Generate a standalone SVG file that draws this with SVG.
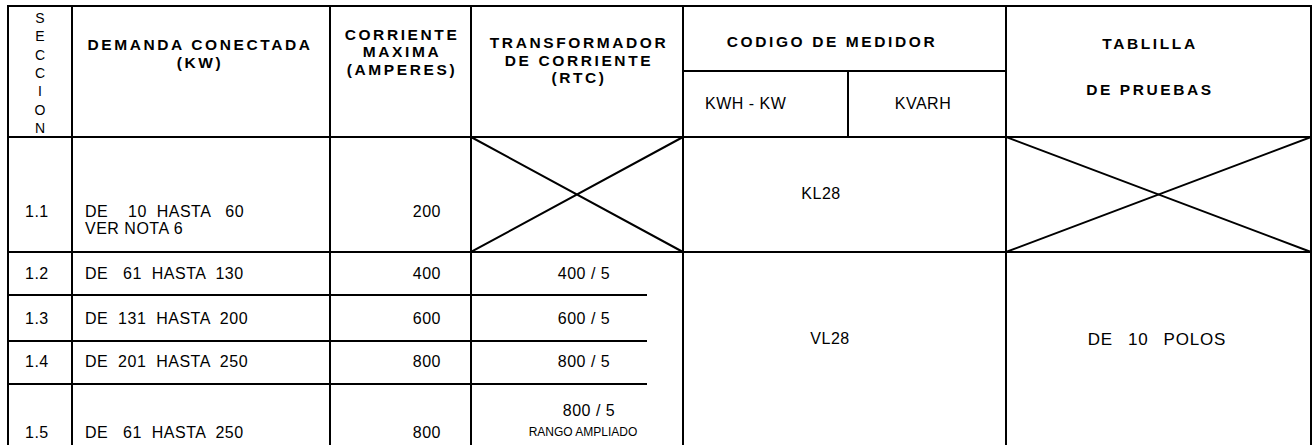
<svg xmlns="http://www.w3.org/2000/svg" width="1312" height="445" viewBox="0 0 1312 445">
<style>
.ln{stroke:#000;stroke-width:2;fill:none;stroke-linecap:square}
.h{font-family:"Liberation Sans",Arial,sans-serif;font-weight:bold;font-size:15.5px;letter-spacing:2.6px;text-anchor:middle;fill:#000}
.t{font-family:"Liberation Sans",Arial,sans-serif;font-size:16px;letter-spacing:0.5px;fill:#000;white-space:pre}
.c{text-anchor:middle}
.r{text-anchor:end}
.v{font-family:"Liberation Sans",Arial,sans-serif;font-size:14px;text-anchor:middle;fill:#000}
.s{font-family:"Liberation Sans",Arial,sans-serif;font-size:12px;text-anchor:middle;fill:#000}
</style>
<rect width="1312" height="445" fill="#fff"/>
<g id="connectors">
<path class="ln" d="M8,446 V6 H1311 V446"/>
<path class="ln" d="M72,6 V446 M330,6 V446 M471,6 V446 M683,6 V446 M1006,6 V446 M848,71 V137"/>
<path class="ln" d="M683,71 H1006 M8,137 H1311 M8,252 H1311"/>
<path class="ln" d="M8,295 H646 M8,341 H646 M8,384 H646"/>
<path class="ln" d="M471,137 L683,252 M471,252 L683,137 M1006,137 L1311,252 M1006,252 L1311,137"/>
</g>
<g id="h-seccion">
<text class="v" x="40" y="23">S</text>
<text class="v" x="40" y="41.3">E</text>
<text class="v" x="40" y="59.6">C</text>
<text class="v" x="40" y="78">C</text>
<text class="v" x="40" y="96.3">I</text>
<text class="v" x="40" y="114.6">O</text>
<text class="v" x="40" y="133">N</text>
</g>
<g id="h-demanda">
<text class="h" x="200" y="50">DEMANDA CONECTADA</text>
<text class="h" x="200" y="67.5">(KW)</text>
</g>
<g id="h-corriente">
<text class="h" x="402" y="39.5">CORRIENTE</text>
<text class="h" x="402" y="57">MAXIMA</text>
<text class="h" x="402" y="74.5">(AMPERES)</text>
</g>
<g id="h-transformador">
<text class="h" x="579" y="48">TRANSFORMADOR</text>
<text class="h" x="579" y="65.5">DE CORRIENTE</text>
<text class="h" x="579" y="83">(RTC)</text>
</g>
<g id="h-codigo">
<text class="h" x="832" y="47">CODIGO DE MEDIDOR</text>
<text class="t" x="705" y="109">KWH - KW</text>
<text class="t c" x="923" y="109">KVARH</text>
</g>
<g id="h-tablilla">
<text class="h" x="1150" y="49">TABLILLA</text>
<text class="h" x="1150" y="95">DE PRUEBAS</text>
</g>
<g id="row-1-1">
<text class="t" x="25" y="217">1.1</text>
<text class="t" x="85" y="217">DE    10  HASTA   60</text>
<text class="t" x="85" y="234">VER NOTA 6</text>
<text class="t r" x="441" y="217">200</text>
<text class="t c" x="821" y="199">KL28</text>
</g>
<g id="row-1-2">
<text class="t" x="25" y="279">1.2</text>
<text class="t" x="85" y="279">DE   61  HASTA  130</text>
<text class="t r" x="441" y="279">400</text>
<text class="t c" x="584" y="279">400 / 5</text>
</g>
<g id="row-1-3">
<text class="t" x="25" y="324">1.3</text>
<text class="t" x="85" y="324">DE  131  HASTA  200</text>
<text class="t r" x="441" y="324">600</text>
<text class="t c" x="584" y="324">600 / 5</text>
</g>
<g id="row-1-4">
<text class="t" x="25" y="367">1.4</text>
<text class="t" x="85" y="367">DE  201  HASTA  250</text>
<text class="t r" x="441" y="367">800</text>
<text class="t c" x="584" y="367">800 / 5</text>
</g>
<g id="row-1-5">
<text class="t" x="25" y="438">1.5</text>
<text class="t" x="85" y="438">DE   61  HASTA  250</text>
<text class="t r" x="441" y="438">800</text>
<text class="t c" x="589" y="416">800 / 5</text>
<text class="s" x="583" y="436">RANGO AMPLIADO</text>
</g>
<g id="cell-vl28">
<text class="t c" x="830" y="344">VL28</text>
</g>
<g id="cell-polos">
<text class="t c" x="1157" y="345" style="font-size:17px;letter-spacing:0.8px;word-spacing:2px">DE  10  POLOS</text>
</g>
</svg>
